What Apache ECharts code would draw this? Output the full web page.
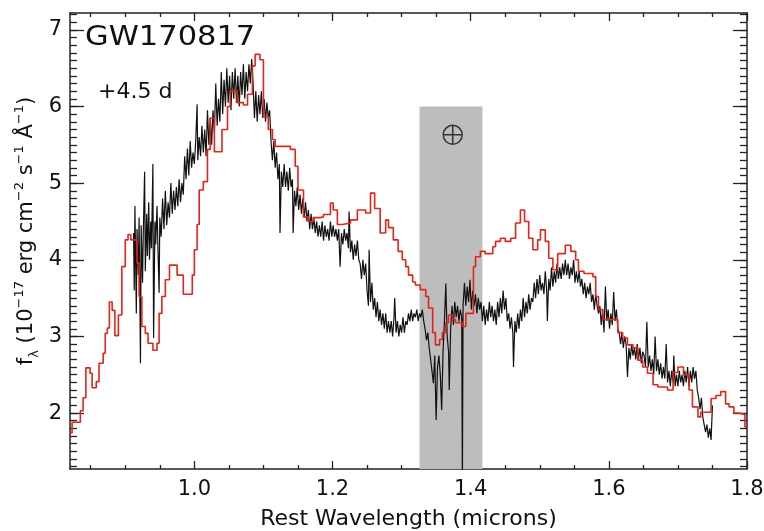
<!DOCTYPE html>
<html><head><meta charset="utf-8">
<script src="https://cdn.jsdelivr.net/npm/echarts@6/dist/echarts.min.js"></script>
<style>html,body{margin:0;padding:0;background:#fff}#c{width:764px;height:531px}</style>
</head><body><div id="c"></div>
<script>
// ---- data ----
const xRange = [0.82, 1.8];
const yRange = [1.27, 7.22];
const xMajorTicks = [1.0, 1.2, 1.4, 1.6, 1.8];
const xMinorTicks = [0.85, 0.9, 0.95, 1.05, 1.1, 1.15, 1.25, 1.3, 1.35, 1.45, 1.5, 1.55, 1.65, 1.7, 1.75];
const yMajorTicks = [2, 3, 4, 5, 6, 7];
const telluricBand = [1.326, 1.417];
const telluricTop = 6.0;
const telluricMark = [1.374, 5.63];
const titleText = 'GW170817';
const epochText = '+4.5 d';

const modelWave = [0.820,0.823,0.835,0.839,0.843,0.849,0.852,0.858,0.862,0.868,0.871,0.874,0.877,0.881,0.885,0.890,0.895,0.900,0.904,0.908,0.917,0.920,0.924,0.929,0.933,0.940,0.946,0.949,0.953,0.958,0.964,0.975,0.984,0.997,1.000,1.004,1.007,1.013,1.019,1.023,1.029,1.040,1.048,1.052,1.062,1.071,1.077,1.084,1.088,1.095,1.100,1.107,1.113,1.117,1.139,1.146,1.150,1.158,1.165,1.172,1.182,1.187,1.197,1.201,1.207,1.214,1.226,1.236,1.248,1.255,1.261,1.269,1.277,1.281,1.288,1.295,1.301,1.306,1.310,1.316,1.320,1.327,1.335,1.339,1.345,1.349,1.355,1.359,1.364,1.368,1.374,1.378,1.388,1.393,1.404,1.407,1.414,1.421,1.432,1.436,1.443,1.450,1.458,1.465,1.472,1.478,1.484,1.490,1.497,1.501,1.508,1.513,1.519,1.526,1.537,1.545,1.552,1.556,1.564,1.577,1.581,1.585,1.591,1.613,1.620,1.627,1.635,1.642,1.649,1.656,1.664,1.671,1.685,1.693,1.700,1.708,1.716,1.721,1.729,1.733,1.748,1.755,1.762,1.769,1.774,1.781,1.788,1.797,1.800];
const modelFlux = [1.74,1.88,2.03,2.20,2.59,2.52,2.33,2.41,2.65,2.78,3.04,3.11,3.45,3.34,3.01,3.28,3.91,4.26,4.33,4.26,3.96,3.52,3.13,3.04,2.91,2.82,2.91,3.30,3.52,3.74,3.93,3.80,3.55,3.80,4.13,4.46,4.91,5.02,5.44,5.85,5.41,5.70,6.00,6.20,6.05,6.02,6.16,6.53,6.68,6.61,5.87,5.70,5.57,5.48,5.44,5.22,4.91,4.56,4.50,4.55,4.56,4.59,4.74,4.65,4.46,4.48,4.52,4.65,4.61,4.87,4.67,4.35,4.52,4.42,4.26,4.11,4.00,3.91,3.80,3.71,3.67,3.61,3.52,3.37,3.05,2.89,2.96,3.05,3.18,3.28,3.22,3.18,3.13,3.30,3.91,4.04,4.11,4.08,4.17,4.24,4.28,4.24,4.28,4.48,4.65,4.50,4.28,4.13,4.26,4.39,4.24,4.02,3.87,4.08,4.19,4.11,4.00,3.85,3.82,3.78,3.52,3.35,3.22,3.05,2.98,2.89,2.85,2.69,2.60,2.52,2.37,2.34,2.30,2.53,2.60,2.50,2.30,2.08,1.95,2.01,2.19,2.23,2.28,2.12,2.08,2.00,1.98,1.82,1.82];

const obsSpectrum = [[0.912,4.35],[0.913,3.60],[0.914,4.70],[0.916,3.30],[0.917,4.40],[0.919,3.80],[0.920,4.55],[0.922,2.65],[0.923,4.45],[0.925,3.70],[0.926,4.30],[0.928,5.15],[0.929,3.85],[0.931,4.60],[0.932,4.05],[0.934,4.75],[0.935,4.00],[0.937,4.50],[0.938,4.15],[0.940,5.25],[0.941,2.98],[0.943,4.50],[0.944,4.20],[0.946,4.70],[0.947,4.25],[0.949,3.57],[0.950,4.55],[0.952,4.30],[0.954,4.80],[0.956,4.40],[0.958,4.90],[0.960,4.45],[0.962,4.75],[0.964,4.55],[0.966,5.00],[0.968,4.60],[0.970,4.90],[0.972,4.65],[0.974,4.95],[0.976,4.70],[0.978,5.05],[0.980,4.75],[0.982,5.00],[0.984,4.85],[0.986,5.35],[0.988,5.05],[0.990,5.45],[0.992,5.10],[0.994,5.55],[0.996,5.20],[0.998,5.40],[1.000,5.25],[1.002,5.55],[1.004,6.03],[1.005,5.30],[1.007,5.60],[1.009,5.35],[1.011,5.75],[1.013,5.40],[1.015,5.70],[1.017,5.35],[1.019,5.95],[1.021,5.50],[1.023,5.85],[1.025,5.50],[1.027,5.95],[1.029,5.65],[1.031,6.30],[1.033,5.75],[1.035,6.10],[1.037,5.80],[1.039,6.45],[1.041,5.90],[1.043,6.35],[1.045,6.00],[1.047,6.50],[1.049,6.05],[1.051,6.40],[1.053,5.95],[1.055,6.45],[1.057,6.10],[1.059,6.50],[1.061,6.05],[1.063,6.40],[1.065,6.00],[1.067,6.45],[1.069,6.15],[1.071,6.55],[1.073,6.10],[1.075,6.45],[1.077,6.20],[1.079,6.55],[1.081,6.30],[1.083,6.62],[1.085,6.30],[1.087,5.85],[1.089,6.20],[1.091,5.80],[1.093,6.15],[1.095,5.90],[1.097,6.20],[1.099,5.85],[1.101,6.10],[1.103,5.80],[1.105,6.05],[1.107,5.85],[1.109,5.95],[1.111,5.55],[1.113,5.30],[1.115,5.55],[1.117,5.20],[1.119,5.40],[1.121,5.05],[1.123,5.25],[1.124,4.35],[1.126,5.15],[1.128,4.95],[1.130,5.25],[1.132,4.95],[1.134,5.15],[1.136,4.90],[1.138,5.20],[1.140,4.95],[1.142,5.05],[1.143,4.35],[1.145,4.90],[1.147,4.70],[1.149,4.95],[1.151,4.65],[1.153,4.85],[1.155,4.60],[1.157,4.80],[1.159,4.55],[1.161,4.75],[1.163,4.50],[1.165,4.65],[1.167,4.40],[1.169,4.60],[1.171,4.40],[1.173,4.55],[1.175,4.35],[1.177,4.50],[1.179,4.30],[1.181,4.45],[1.183,4.30],[1.185,4.50],[1.187,4.25],[1.189,4.45],[1.191,4.30],[1.193,4.40],[1.195,4.25],[1.197,4.50],[1.199,4.30],[1.201,4.45],[1.203,4.30],[1.205,4.40],[1.207,4.25],[1.209,4.40],[1.211,3.91],[1.213,4.35],[1.215,4.20],[1.217,4.40],[1.219,4.25],[1.221,4.35],[1.223,4.15],[1.224,4.63],[1.226,4.10],[1.228,4.25],[1.230,4.00],[1.232,4.20],[1.234,4.05],[1.236,4.25],[1.238,4.00],[1.240,3.95],[1.242,3.75],[1.244,4.00],[1.246,3.80],[1.248,3.95],[1.250,3.60],[1.252,3.40],[1.253,4.13],[1.255,3.45],[1.257,3.70],[1.259,3.35],[1.261,3.50],[1.263,3.25],[1.265,3.45],[1.267,3.20],[1.269,3.35],[1.271,3.15],[1.273,3.30],[1.275,3.10],[1.277,3.30],[1.279,3.05],[1.281,3.20],[1.283,3.05],[1.285,3.20],[1.287,3.00],[1.289,3.25],[1.290,3.50],[1.292,3.05],[1.294,3.20],[1.296,3.00],[1.298,3.15],[1.300,3.05],[1.302,3.25],[1.304,3.05],[1.306,3.20],[1.308,3.15],[1.310,3.30],[1.312,3.20],[1.314,3.35],[1.316,3.20],[1.318,3.30],[1.320,3.25],[1.322,3.35],[1.324,3.20],[1.326,3.30],[1.328,3.25],[1.330,3.35],[1.332,3.20],[1.334,3.10],[1.336,2.95],[1.338,3.05],[1.340,2.85],[1.342,2.70],[1.344,2.55],[1.346,2.39],[1.348,2.75],[1.350,1.91],[1.352,2.60],[1.354,2.75],[1.356,2.50],[1.358,2.04],[1.360,2.80],[1.362,3.20],[1.364,3.69],[1.366,3.00],[1.368,2.80],[1.369,2.30],[1.371,3.10],[1.373,3.40],[1.375,3.15],[1.377,3.45],[1.379,3.25],[1.381,3.40],[1.383,3.20],[1.385,3.35],[1.387,3.25],[1.388,1.00],[1.389,3.40],[1.391,3.70],[1.393,3.40],[1.395,3.65],[1.397,3.45],[1.399,3.74],[1.401,3.35],[1.403,3.60],[1.405,3.40],[1.407,3.55],[1.409,3.30],[1.411,3.50],[1.413,3.35],[1.415,3.45],[1.417,3.20],[1.419,3.40],[1.421,3.15],[1.423,3.35],[1.425,3.20],[1.427,3.45],[1.429,3.25],[1.431,3.40],[1.433,3.20],[1.435,3.35],[1.437,3.15],[1.439,3.45],[1.441,3.25],[1.443,3.50],[1.445,3.30],[1.447,3.60],[1.449,3.35],[1.451,3.50],[1.453,3.20],[1.455,3.30],[1.457,3.10],[1.459,3.25],[1.461,3.05],[1.462,2.60],[1.464,3.20],[1.466,3.05],[1.468,3.30],[1.470,3.10],[1.472,3.35],[1.474,3.20],[1.476,3.50],[1.478,3.25],[1.480,3.45],[1.482,3.30],[1.484,3.55],[1.486,3.35],[1.488,3.50],[1.490,3.45],[1.492,3.70],[1.494,3.50],[1.496,3.75],[1.498,3.55],[1.500,3.80],[1.502,3.60],[1.504,3.70],[1.506,3.55],[1.508,3.85],[1.510,3.60],[1.511,3.20],[1.513,3.75],[1.515,3.60],[1.517,3.90],[1.519,3.65],[1.521,3.85],[1.523,3.70],[1.525,3.95],[1.527,3.75],[1.529,3.90],[1.531,3.75],[1.533,3.95],[1.535,3.80],[1.537,4.00],[1.539,3.80],[1.541,3.95],[1.543,3.75],[1.545,3.90],[1.547,3.80],[1.549,4.00],[1.551,3.70],[1.553,3.85],[1.555,3.70],[1.557,3.85],[1.559,3.65],[1.561,3.75],[1.563,3.55],[1.565,3.70],[1.567,3.50],[1.569,3.65],[1.571,3.55],[1.573,3.70],[1.575,3.45],[1.577,3.55],[1.579,3.35],[1.581,3.55],[1.583,3.40],[1.585,3.30],[1.587,3.40],[1.589,3.15],[1.591,3.35],[1.593,3.05],[1.595,3.65],[1.597,3.20],[1.599,3.35],[1.601,3.10],[1.603,3.30],[1.605,3.15],[1.607,3.58],[1.609,3.20],[1.611,3.35],[1.613,3.10],[1.615,3.05],[1.617,2.90],[1.619,3.05],[1.621,2.85],[1.623,3.00],[1.625,2.90],[1.627,2.47],[1.629,2.85],[1.631,2.70],[1.633,2.90],[1.635,2.75],[1.637,2.85],[1.639,2.70],[1.641,2.90],[1.643,2.70],[1.645,2.85],[1.647,2.65],[1.649,2.80],[1.651,2.75],[1.653,2.60],[1.655,3.19],[1.657,2.60],[1.659,2.75],[1.661,2.55],[1.663,2.70],[1.665,2.50],[1.667,3.00],[1.669,2.55],[1.671,2.70],[1.673,2.50],[1.675,2.65],[1.677,2.45],[1.679,2.60],[1.681,2.45],[1.683,2.90],[1.685,2.40],[1.687,2.55],[1.689,2.35],[1.691,2.55],[1.693,2.40],[1.694,2.75],[1.696,2.35],[1.698,2.50],[1.700,2.35],[1.702,2.55],[1.704,2.40],[1.706,2.50],[1.708,2.35],[1.710,2.55],[1.712,2.40],[1.714,2.60],[1.716,2.35],[1.718,2.55],[1.720,2.40],[1.722,2.60],[1.724,2.45],[1.726,2.55],[1.728,2.30],[1.730,2.20],[1.732,2.05],[1.734,2.20],[1.736,1.95],[1.738,1.85],[1.740,1.75],[1.742,1.85],[1.744,1.68],[1.746,1.80],[1.748,1.65],[1.750,2.10]];

// ---- chart ----
const FONT = 'DejaVu Sans';
const yMinorTicks = [];
for (let k = 13; k <= 72; k++) yMinorTicks.push(k / 10);

const axisCol = '#222';
function xAx(pos, ticks, len, showLine, showLabel) {
  return {
    type: 'value', min: xRange[0], max: xRange[1], position: pos, offset: 0,
    axisLine: { show: showLine, onZero: false, lineStyle: { color: axisCol, width: 1.5 } },
    axisTick: { show: true, inside: true, length: len, customValues: ticks, lineStyle: { color: axisCol, width: 1.3 } },
    axisLabel: { show: showLabel, customValues: xMajorTicks, formatter: v => v.toFixed(1), fontFamily: FONT, fontSize: 21, color: '#111', margin: 10 },
    splitLine: { show: false }
  };
}
function yAx(pos, ticks, len, showLine, showLabel) {
  return {
    type: 'value', min: yRange[0], max: yRange[1], position: pos, offset: 0,
    axisLine: { show: showLine, onZero: false, lineStyle: { color: axisCol, width: 1.5 } },
    axisTick: { show: true, inside: true, length: len, customValues: ticks, lineStyle: { color: axisCol, width: 1.3 } },
    axisLabel: { show: showLabel, customValues: yMajorTicks, formatter: v => String(v), fontFamily: FONT, fontSize: 21, color: '#111', margin: 8 },
    splitLine: { show: false }
  };
}

const xAxes = [
  xAx('bottom', xMinorTicks, 4, true, true),
  xAx('bottom', xMajorTicks, 8, false, false),
  xAx('top', xMajorTicks, 8, true, false),
  xAx('top', xMinorTicks, 4, false, false)
];
xAxes[0].name = 'Rest Wavelength (microns)';
xAxes[0].nameLocation = 'middle';
xAxes[0].nameGap = 39;
xAxes[0].nameTextStyle = { fontFamily: FONT, fontSize: 22, color: '#111' };

const yAxes = [
  yAx('left', yMinorTicks, 7, true, true),
  yAx('left', yMajorTicks, 14, false, false),
  yAx('right', yMajorTicks, 14, true, false),
  yAx('right', yMinorTicks, 7, false, false)
];

const chart = echarts.init(document.getElementById('c'), null, { renderer: 'canvas' });
chart.setOption({
  animation: false,
  backgroundColor: '#fff',
  grid: { left: 70, right: 17, top: 13, bottom: 62, containLabel: false, outerBoundsMode: 'none' },
  xAxis: xAxes,
  yAxis: yAxes,
  series: [
    {
      name: 'observed', type: 'line', xAxisIndex: 0, yAxisIndex: 0,
      data: obsSpectrum, showSymbol: false, symbol: 'none', clip: true,
      lineStyle: { color: '#111', width: 1.2 },
      markArea: {
        silent: true,
        itemStyle: { color: '#bdbdbd' },
        data: [[{ xAxis: telluricBand[0], yAxis: yRange[0] }, { xAxis: telluricBand[1], yAxis: telluricTop }]]
      },
      z: 2
    },
    {
      name: 'model', type: 'line', xAxisIndex: 0, yAxisIndex: 0,
      data: modelWave.map((w, i) => [w, modelFlux[i]]),
      step: 'end', showSymbol: false, symbol: 'none', clip: true,
      lineStyle: { color: '#e3241b', width: 1.6 },
      z: 3
    },
    {
      name: 'telluric', type: 'scatter', xAxisIndex: 0, yAxisIndex: 0,
      data: [telluricMark],
      symbol: 'path://M0,10 A10,10 0 1,1 20,10 A10,10 0 1,1 0,10 Z M10,0 L10,20 M0,10 L20,10',
      symbolSize: 19,
      itemStyle: { color: 'none', borderColor: '#111', borderWidth: 1.5 },
      silent: true, z: 4
    }
  ],
  graphic: [
    { type: 'text', x: 85, y: 38, scaleX: 1.13, style: { text: titleText, fontFamily: FONT, fontSize: 27, fill: '#111', align: 'left', verticalAlign: 'middle' }, z: 10 },
    { type: 'text', x: 98, y: 92, style: { text: epochText, fontFamily: FONT, fontSize: 22, fill: '#111', align: 'left', verticalAlign: 'middle' }, z: 10 },
    { type: 'text', x: 27, y: 231, rotation: Math.PI / 2,
      style: {
        text: '{m|f}{sub|λ}{m| (10}{sup|−17}{m| erg cm}{sup|−2}{m| s}{sup|−1}{m| Å}{sup|−1}{m|)}',
        align: 'center', verticalAlign: 'middle', fill: '#111',
        rich: {
          m: { fontFamily: FONT, fontSize: 21, lineHeight: 28, fill: '#111' },
          sup: { fontFamily: FONT, fontSize: 13, lineHeight: 13, verticalAlign: 'top', fill: '#111' },
          sub: { fontFamily: FONT, fontSize: 13, lineHeight: 13, verticalAlign: 'bottom', fill: '#111' }
        }
      }, z: 10 }
  ]
});
</script>
</body></html>
